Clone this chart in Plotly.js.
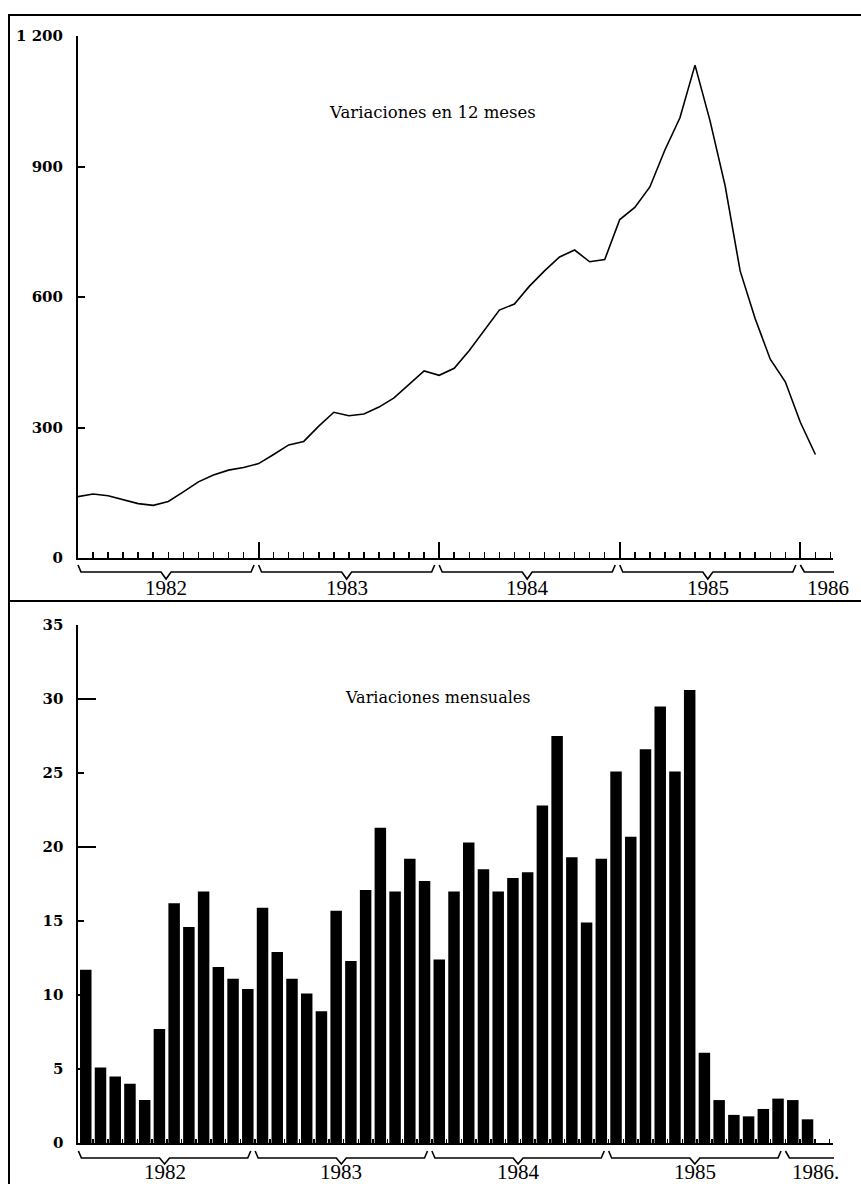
<!DOCTYPE html>
<html><head><meta charset="utf-8">
<script src="https://cdn.plot.ly/plotly-3.0.1.min.js"></script>
<style>html,body{margin:0;padding:0;background:#fff}</style>
</head><body><div id="chart" style="width:861px;height:1184px"></div>
<script>
// ---------- data ----------
const years = [1982, 1983, 1984, 1985, 1986];
const monthsPerYear = [12, 12, 12, 12, 2];
const yearLabelsTop = ['1982', '1983', '1984', '1985', '1986'];
const yearLabelsBottom = ['1982', '1983', '1984', '1985', '1986.'];

// Variaciones en 12 meses (%), Jan 1982 .. Feb 1986
const variacion12Meses = [
  141, 147, 143, 134, 125, 121, 130, 152, 175, 191, 202, 208,
  217, 238, 260, 268, 303, 335, 327, 331, 347, 368, 398, 430,
  420, 436, 477, 523, 570, 584, 625, 660, 692, 708, 681, 686,
  778, 806, 853, 938, 1012, 1133, 1005, 856, 660, 550, 457, 405,
  312, 238
];
// Variaciones mensuales (%), Jan 1982 .. Feb 1986
const variacionMensual = [
  11.7, 5.1, 4.5, 4.0, 2.9, 7.7, 16.2, 14.6, 17.0, 11.9, 11.1, 10.4,
  15.9, 12.9, 11.1, 10.1, 8.9, 15.7, 12.3, 17.1, 21.3, 17.0, 19.2, 17.7,
  12.4, 17.0, 20.3, 18.5, 17.0, 17.9, 18.3, 22.8, 27.5, 19.3, 14.9, 19.2,
  25.1, 20.7, 26.6, 29.5, 25.1, 30.6, 6.1, 2.9, 1.9, 1.8, 2.3, 3.0,
  2.9, 1.6
];
const topTitle = 'Variaciones en 12 meses';
const bottomTitle = 'Variaciones mensuales';
const topYTicks = [0, 300, 600, 900, 1200];
const bottomYTicks = [0, 5, 10, 15, 20, 25, 30, 35];
const bottomLongYTicks = [20, 30];

// ---------- geometry ----------
const W = 861, H = 1184;
const px = x => x / W;
const py = y => 1 - y / H;

const topX = {dom: [px(78), px(833)], range: [0, 50.17]};
const topY = {dom: [py(558), py(36)], range: [0, 1200]};
const botX = {dom: [px(78.4), px(833)], range: [0, 51.23]};
const botY = {dom: [py(1143), py(625)], range: [0, 35]};

function dataToPaperX(ax, v) {
  return ax.dom[0] + (v - ax.range[0]) / (ax.range[1] - ax.range[0]) * (ax.dom[1] - ax.dom[0]);
}

const monthIdx = variacion12Meses.map((_, i) => i);
const barX = variacionMensual.map((_, i) => i + 0.5);

// year starts
const yearStart = [];
let acc = 0;
monthsPerYear.forEach(n => { yearStart.push(acc); acc += n; });
const yearBoundaryTicks = yearStart.slice(1);

const serifTick = {family: 'DejaVu Serif', size: 15, color: '#000', weight: 'bold'};

const traces = [
  {type: 'scatter', mode: 'lines', x: monthIdx, y: variacion12Meses,
   xaxis: 'x', yaxis: 'y', line: {color: '#000', width: 1.6}, cliponaxis: false, hoverinfo: 'skip'},
  {type: 'bar', x: barX, y: variacionMensual, width: 0.78,
   xaxis: 'x2', yaxis: 'y2', marker: {color: '#000', line: {width: 0}}, hoverinfo: 'skip'},
  {type: 'scatter', mode: 'lines', x: [], y: [], xaxis: 'x3', yaxis: 'y', showlegend: false},
  {type: 'scatter', mode: 'lines', x: [], y: [], xaxis: 'x2', yaxis: 'y3', showlegend: false}
];

// braces + year labels
const shapes = [];
const annotations = [];
function addBraces(ax, labels, yEnd, yLine, yNotch, yLabel) {
  years.forEach((yr, k) => {
    const s = yearStart[k], n = monthsPerYear[k];
    const full = n === 12;
    const a = dataToPaperX(ax, s);
    const b = full ? dataToPaperX(ax, s + n - 0.3) : ax.dom[1] + px(1);
    const d = px(5);
    let path;
    const yE = py(yEnd), yL = py(yLine), yN = py(yNotch);
    if (full) {
      const m = (a + b) / 2;
      path = `M ${a},${yE} L ${a + d * 0.6},${yL} L ${m - d},${yL} L ${m},${yN} L ${m + d},${yL} L ${b - d * 0.6},${yL} L ${b},${yE}`;
      annotations.push({xref: 'paper', yref: 'paper', x: m, y: py(yLabel), text: labels[k],
        showarrow: false, xanchor: 'center', yanchor: 'middle',
        font: {family: 'Liberation Serif', size: 21, color: '#000'}});
    } else {
      path = `M ${a},${yE} L ${a + d * 0.8},${yL} L ${b},${yL}`;
      annotations.push({xref: 'paper', yref: 'paper', x: a + px(5), y: py(yLabel), text: labels[k],
        showarrow: false, xanchor: 'left', yanchor: 'middle',
        font: {family: 'Liberation Serif', size: 21, color: '#000'}});
    }
    shapes.push({type: 'path', xref: 'paper', yref: 'paper', path: path,
      line: {color: '#000', width: 1.6}});
  });
}
addBraces(topX, yearLabelsTop, 565, 572, 579, 588);
addBraces(botX, yearLabelsBottom, 1151, 1158, 1164, 1172);

// frame lines
shapes.push({type: 'line', xref: 'paper', yref: 'paper', x0: px(8), x1: 1, y0: py(15), y1: py(15), line: {color: '#000', width: 2}});
shapes.push({type: 'line', xref: 'paper', yref: 'paper', x0: px(9), x1: px(9), y0: py(14), y1: 0, line: {color: '#000', width: 2}});
shapes.push({type: 'line', xref: 'paper', yref: 'paper', x0: px(8), x1: 1, y0: py(601), y1: py(601), line: {color: '#000', width: 2}});

annotations.push({xref: 'paper', yref: 'paper', x: px(432), y: py(112), text: topTitle, showarrow: false,
  xanchor: 'center', yanchor: 'middle', font: {family: 'DejaVu Serif', size: 16.5, color: '#000'}});
annotations.push({xref: 'paper', yref: 'paper', x: px(438), y: py(697), text: bottomTitle, showarrow: false,
  xanchor: 'center', yanchor: 'middle', font: {family: 'DejaVu Serif', size: 16, color: '#000'}});

const baseX = {showgrid: false, zeroline: false, showticklabels: false, fixedrange: true};

const layout = {
  width: W, height: H,
  margin: {l: 0, r: 0, t: 0, b: 0, pad: 0},
  paper_bgcolor: '#fff', plot_bgcolor: 'rgba(0,0,0,0)',
  showlegend: false,
  separators: ', ',
  xaxis: Object.assign({}, baseX, {domain: topX.dom, range: topX.range, anchor: 'y',
    showline: true, linecolor: '#000', linewidth: 2,
    tickmode: 'linear', tick0: 0, dtick: 1, ticks: 'inside', ticklen: 6, tickwidth: 1.5, tickcolor: '#000'}),
  xaxis3: Object.assign({}, baseX, {domain: topX.dom, range: topX.range, anchor: 'y', overlaying: 'x',
    showline: false, tickmode: 'array', tickvals: yearBoundaryTicks, ticks: 'inside', ticklen: 16, tickwidth: 2, tickcolor: '#000'}),
  yaxis: {domain: topY.dom, range: topY.range, anchor: 'x', showgrid: false, zeroline: false, fixedrange: true,
    showline: true, linecolor: '#000', linewidth: 2,
    tickmode: 'array', tickvals: topYTicks, ticks: 'inside', ticklen: 7, tickwidth: 2, tickcolor: '#000',
    separatethousands: true, tickformat: ',d', tickfont: serifTick, ticklabelstandoff: 10},
  xaxis2: Object.assign({}, baseX, {domain: botX.dom, range: botX.range, anchor: 'y2',
    showline: true, linecolor: '#000', linewidth: 2,
    tickmode: 'linear', tick0: 0, dtick: 1, ticks: 'inside', ticklen: 4, tickwidth: 1.5, tickcolor: '#000'}),
  yaxis2: {domain: botY.dom, range: botY.range, anchor: 'x2', showgrid: false, zeroline: false, fixedrange: true,
    showline: true, linecolor: '#000', linewidth: 2,
    tickmode: 'array', tickvals: bottomYTicks, ticks: 'inside', ticklen: 6, tickwidth: 2, tickcolor: '#000',
    tickfont: serifTick, ticklabelstandoff: 10},
  yaxis3: {domain: botY.dom, range: botY.range, anchor: 'x2', overlaying: 'y2', showgrid: false, zeroline: false,
    showline: false, showticklabels: false, fixedrange: true,
    tickmode: 'array', tickvals: bottomLongYTicks, ticks: 'inside', ticklen: 18, tickwidth: 2, tickcolor: '#000'},
  shapes: shapes,
  annotations: annotations
};

Plotly.newPlot('chart', traces, layout, {staticPlot: true, displayModeBar: false});
</script>
</body></html>
